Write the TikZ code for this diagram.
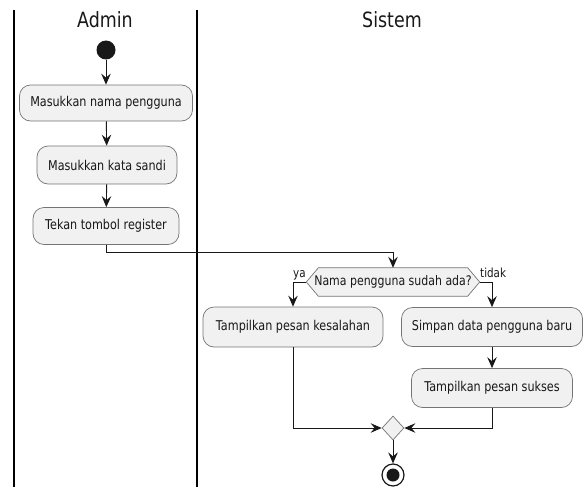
\documentclass[tikz,border=0pt]{standalone}
\usepackage{fontspec}
\setmainfont{DejaVu Sans}[FakeStretch=0.83]
\usetikzlibrary{arrows.meta,shapes.geometric,positioning}
\definecolor{boxfill}{HTML}{F1F1F1}
\definecolor{ink}{HTML}{181818}
\tikzset{
  actbox/.style={draw=ink!60, fill=boxfill, rounded corners=11pt, line width=0.7pt,
    font=\fontsize{13.5}{15}\selectfont, text=ink, inner sep=0pt, align=center},
  flow/.style={draw=ink, line width=0.9pt, -{Stealth[length=11pt,width=9.5pt,inset=4pt]}},
  lane/.style={draw=black, line width=1.4pt},
  lanetitle/.style={font=\fontsize{21}{23}\selectfont, text=ink},
  guard/.style={font=\fontsize{12.5}{13}\selectfont, text=ink, inner sep=0pt},
}
\begin{document}
\begin{tikzpicture}[x=1pt,y=-1pt]
\useasboundingbox (0,0) rectangle (585,487);

% swimlanes
\draw[lane] (14,10) -- (14,487);
\draw[lane] (197,10) -- (197,487);
\node[lanetitle] (tadmin) at (105,20) {Admin};
\node[lanetitle] (tsistem) at (392,20) {Sistem};

% start
\node[circle, fill=ink, minimum size=19pt, inner sep=0pt] (start) at (106,50) {};

% admin actions
\node[actbox, minimum width=173pt, minimum height=36pt] (a1) at (106,103) {Masukkan nama pengguna};
\node[actbox, minimum width=140pt, minimum height=38pt] (a2) at (107,165) {Masukkan kata sandi};
\node[actbox, minimum width=146pt, minimum height=37pt] (a3) at (106,226) {Tekan tombol register};

% decision
\node[minimum width=149pt, minimum height=28pt, inner sep=0pt] (dec) at (393,282) {};
\coordinate (decL) at ([xshift=-12pt]dec.west);
\coordinate (decR) at ([xshift=12pt]dec.east);
\draw[draw=ink!60, fill=boxfill, line width=0.7pt] (dec.north west) -- (dec.north east) -- (decR) -- (dec.south east) -- (dec.south west) -- (decL) -- cycle;
\node[font=\fontsize{13.2}{15}\selectfont, text=ink] (dectext) at (dec) {Nama pengguna sudah ada?};

% system actions
\node[actbox, minimum width=180pt, minimum height=40pt] (s1) at (293,327) {Tampilkan pesan kesalahan};
\node[actbox, minimum width=181pt, minimum height=39pt] (s2) at (492,327) {Simpan data pengguna baru};
\node[actbox, minimum width=161pt, minimum height=39pt] (s3) at (492,388) {Tampilkan pesan sukses};

% merge and end
\node[diamond, draw=ink!60, fill=boxfill, line width=0.7pt, minimum width=22pt, minimum height=24pt, inner sep=0pt] (merge) at (393,428) {};
\node[circle, draw=ink, line width=1.2pt, fill=white, minimum size=22pt, inner sep=0pt] (stop) at (393,475) {};
\node[circle, fill=ink, minimum size=13pt, inner sep=0pt] (stopin) at (stop) {};

% guards
\node[guard, anchor=south west] (gya) at (293,280) {ya};
\node[guard, anchor=south west] (gtidak) at (480,278) {tidak};

% flows
\draw[flow] (start) -- (a1);
\draw[flow] (a1) -- (a2);
\draw[flow] (a2) -- (a3);
\draw[flow] (a3.south) |- (393,252) -- (dec.north);
\draw[flow] (decL) -| (s1.north);
\draw[flow] (decR) -| (s2.north);
\draw[flow] (s2) -- (s3);
\draw[flow] (s1.south) |- (merge.west);
\draw[flow] (s3.south) |- (merge.east);
\draw[flow] (merge.south) -- (stop.north);
\end{tikzpicture}
\end{document}
